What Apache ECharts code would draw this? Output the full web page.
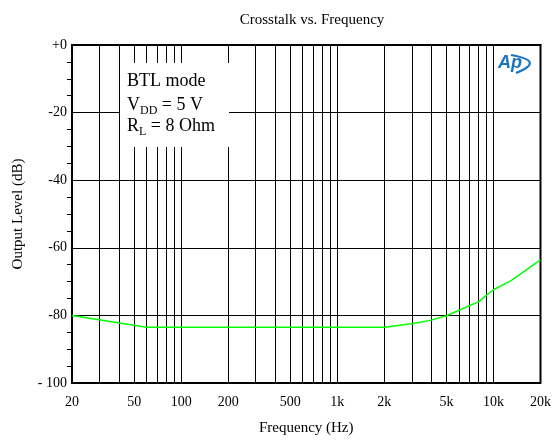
<!DOCTYPE html>
<html>
<head>
<meta charset="utf-8">
<script src="https://cdn.jsdelivr.net/npm/echarts@6/dist/echarts.min.js"></script>
<style>
html,body{margin:0;padding:0;background:#fff;}
#chart{width:554px;height:447px;}
</style>
</head>
<body>
<div id="chart"></div>
<script>
// Data
const freqHz = [20, 60, 2000, 3000, 4000, 5000, 8000, 10000, 12900, 20000];
const levelDb = [-80, -83.5, -83.5, -82.5, -81.4, -80.1, -76, -72.4, -69.8, -63.6];

// Axis ticks
const xGridFreqs = [30,40,50,60,70,80,90,100,200,300,400,500,600,700,800,900,1000,2000,3000,4000,5000,6000,7000,8000,9000,10000];
const xLabelValues = [20, 50, 100, 200, 500, 1000, 2000, 5000, 10000, 20000];
const xLabelTexts = ["20", "50", "100", "200", "500", "1k", "2k", "5k", "10k", "20k"];
const yTickValues = [-100, -80, -60, -40, -20, 0];
const yTickTexts = ["- 100", "-80", "-60", "-40", "-20", "+0"];

const SERIF = '"Liberation Serif", "Times New Roman", serif';

const chart = echarts.init(document.getElementById('chart'), null, {renderer: 'canvas'});

const option = {
  backgroundColor: '#fff',
  animation: false,
  title: {
    text: 'Crosstalk vs. Frequency',
    left: 307, top: 8, textAlign: 'center',
    textStyle: {fontFamily: SERIF, fontSize: 15, fontWeight: 'normal', color: '#000'}
  },
  grid: {
    left: 72, right: 11, top: 45, bottom: 64,
    show: true, borderColor: '#000', borderWidth: 2, backgroundColor: 'transparent'
  },
  xAxis: {
    type: 'log', logBase: 10, min: 20, max: 20000,
    name: 'Frequency (Hz)', nameLocation: 'middle', nameGap: 38,
    nameTextStyle: {fontFamily: SERIF, fontSize: 15, color: '#000'},
    axisLine: {show: true, lineStyle: {color: '#000', width: 2}},
    axisTick: {show: true, length: 0, customValues: xGridFreqs},
    axisLabel: {
      customValues: xLabelValues,
      fontFamily: SERIF, fontSize: 14, color: '#000', margin: 12,
      formatter: function (v) {
        const i = xLabelValues.findIndex(function (x) { return Math.abs(x - v) / x < 1e-6; });
        return i >= 0 ? xLabelTexts[i] : '';
      }
    },
    splitLine: {show: true, lineStyle: {color: '#000', width: 1}},
    minorTick: {show: false},
    minorSplitLine: {show: false}
  },
  yAxis: {
    type: 'value', min: -100, max: 0, interval: 20,
    name: 'Output Level (dB)', nameLocation: 'middle', nameGap: 46,
    nameTextStyle: {fontFamily: SERIF, fontSize: 15, color: '#000'},
    axisLine: {show: true, lineStyle: {color: '#000', width: 2}},
    axisTick: {show: false},
    minorTick: {show: true, splitNumber: 4, length: 5, lineStyle: {color: '#000', width: 1}},
    axisLabel: {
      fontFamily: SERIF, fontSize: 14, color: '#000', margin: 5,
      formatter: function (v) {
        const i = yTickValues.indexOf(v);
        return i >= 0 ? yTickTexts[i] : '';
      }
    },
    splitLine: {show: true, lineStyle: {color: '#000', width: 1}}
  },
  series: [{
    type: 'line',
    data: freqHz.map(function (f, i) { return [f, levelDb[i]]; }),
    showSymbol: false,
    lineStyle: {color: '#00ff00', width: 1.5},
    z: 5
  }],
  graphic: [
    {type: 'rect', z: 50, shape: {x: 120, y: 63, width: 109, height: 84}, style: {fill: '#fff'}},
    {type: 'text', z: 51, x: 127, y: 72, style: {text: 'BTL mode', font: '18px ' + SERIF, fill: '#000'}},
    {type: 'text', z: 51, x: 127, y: 96, style: {
      text: '{a|V}{s|DD}{a| = 5 V}',
      rich: {a: {font: '18px ' + SERIF, fill: '#000', verticalAlign: 'bottom'},
             s: {font: '12px ' + SERIF, fill: '#000', verticalAlign: 'bottom', padding: [0,0,-3,0]}}
    }},
    {type: 'text', z: 51, x: 127, y: 117, style: {
      text: '{a|R}{s|L}{a| = 8 Ohm}',
      rich: {a: {font: '18px ' + SERIF, fill: '#000', verticalAlign: 'bottom'},
             s: {font: '12px ' + SERIF, fill: '#000', verticalAlign: 'bottom', padding: [0,0,-3,0]}}
    }},
    {type: 'text', z: 51, x: 498, y: 54, style: {text: 'Ap', font: 'italic bold 18px "Liberation Sans", Arial, sans-serif', fill: '#1b75bc'}},
    {type: 'bezierCurve', z: 51, shape: {x1: 511, y1: 55, cpx1: 546, cpy1: 61, x2: 516, y2: 73}, style: {stroke: '#1b75bc', lineWidth: 2.2, fill: 'none'}}
  ]
};
chart.setOption(option);
</script>
</body>
</html>
